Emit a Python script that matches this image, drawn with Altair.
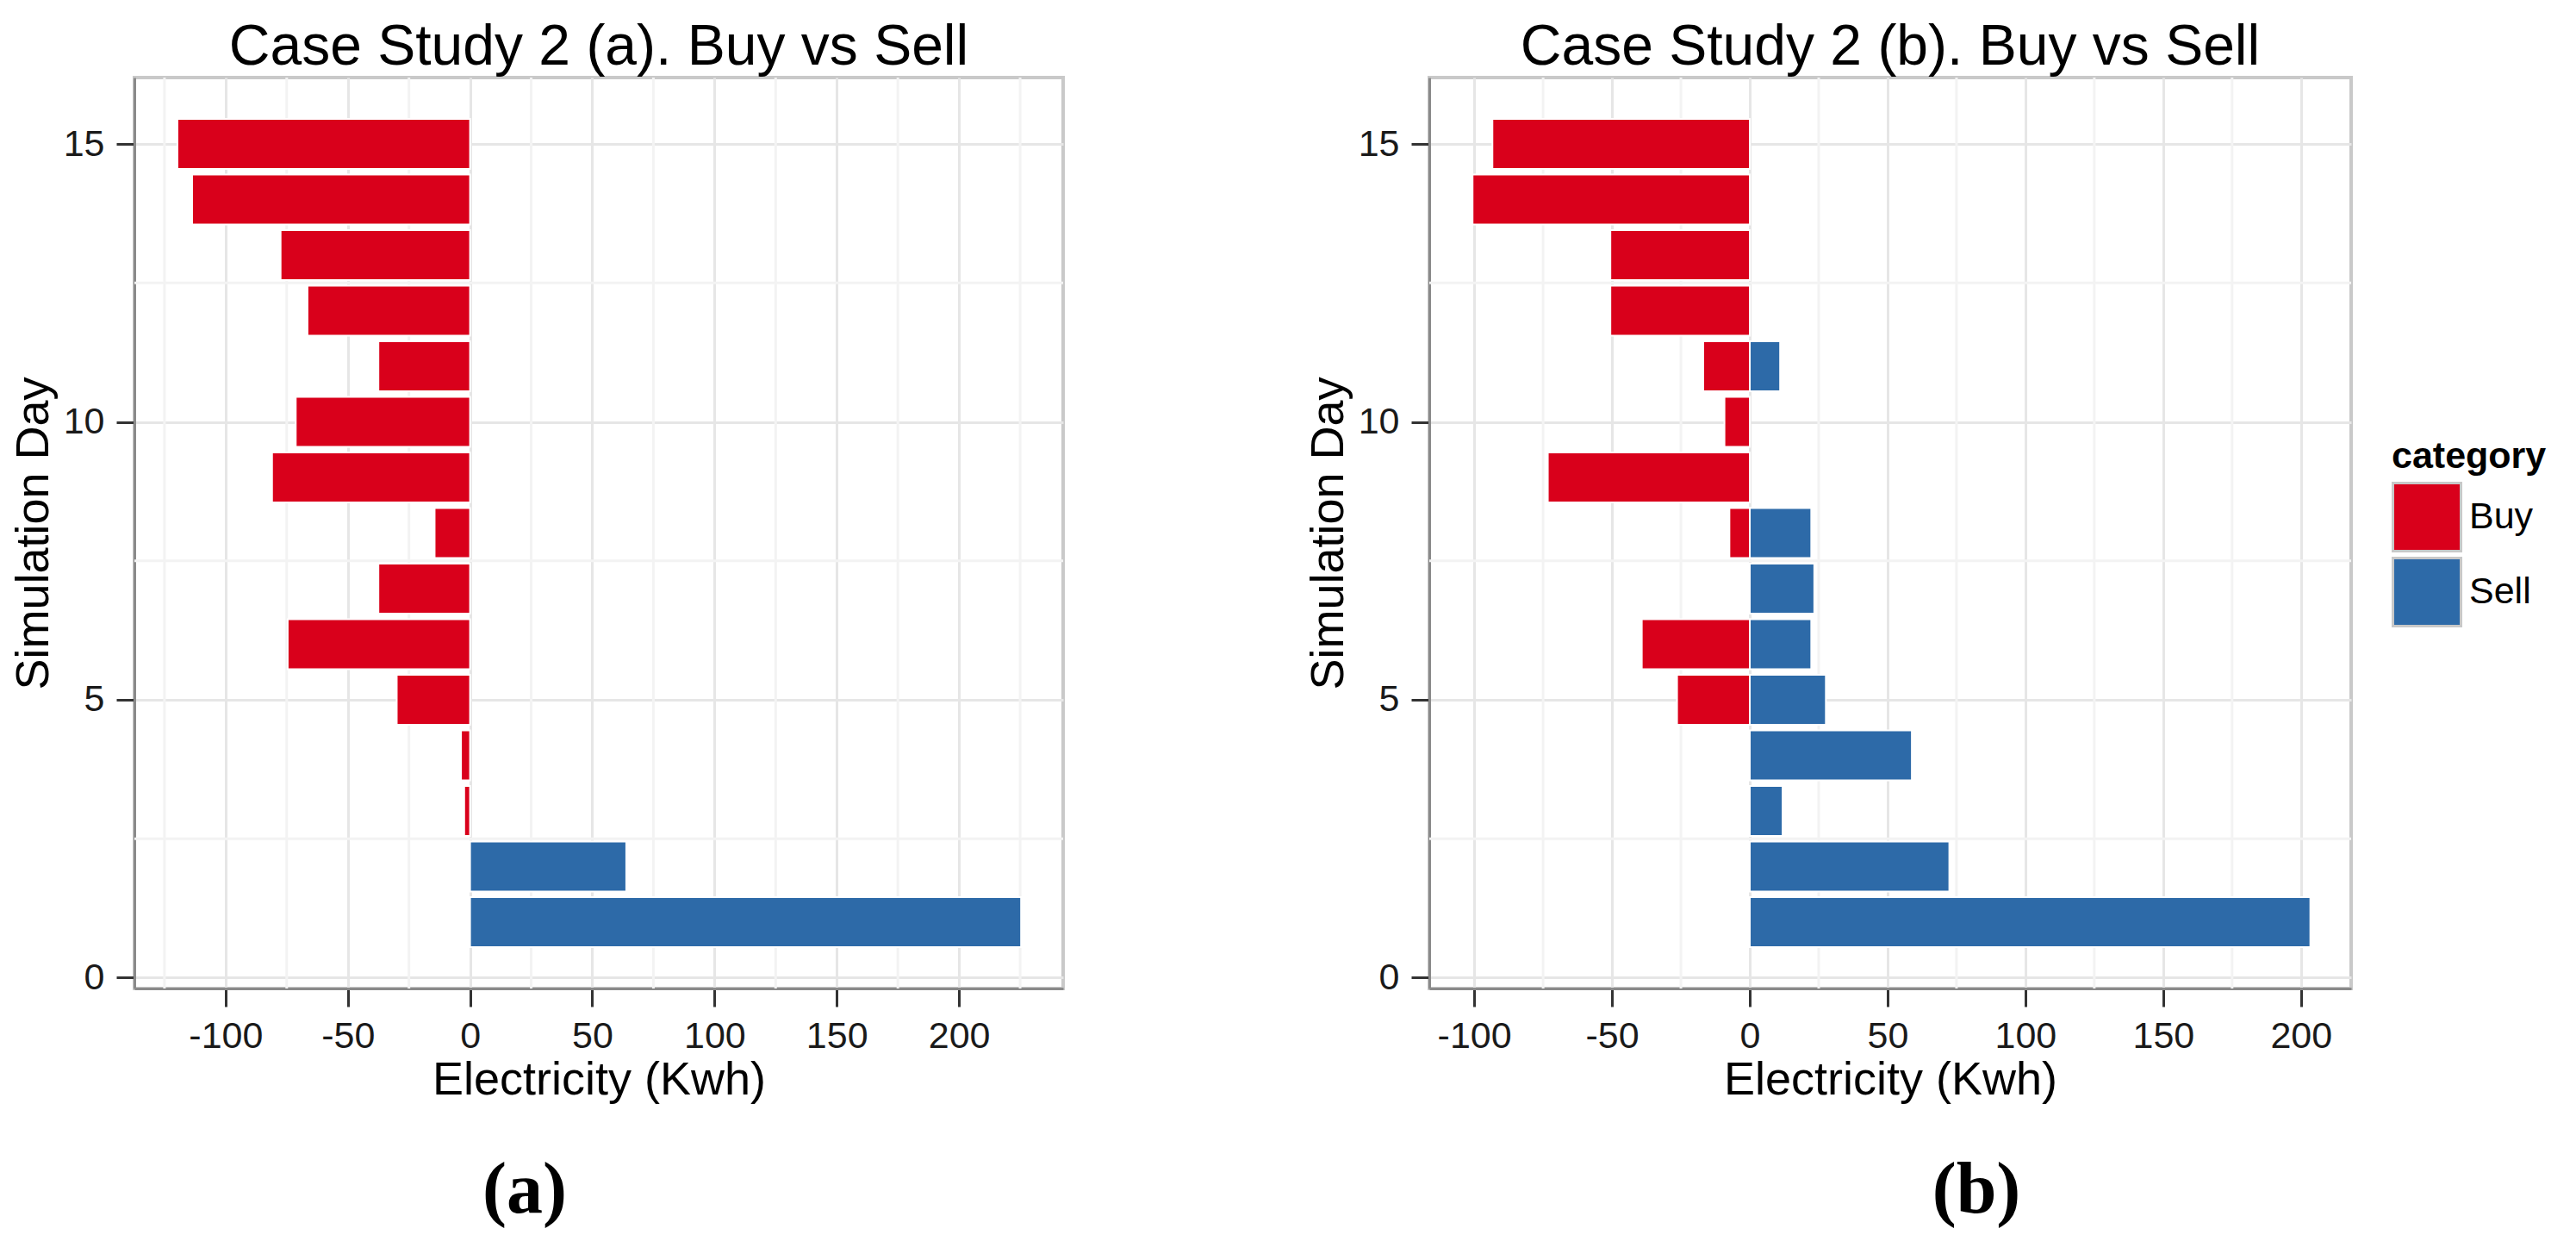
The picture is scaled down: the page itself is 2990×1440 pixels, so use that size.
import altair as alt
import pandas as pd

# ---------------- data ----------------
days = [1, 2, 3, 4, 5, 6, 7, 8, 9, 10, 11, 12, 13, 14, 15]
buy_a = [None, None, -2.4, -3.7, -30.0, -74.6, -37.5, -14.5, -81.0, -71.3, -37.5, -66.5, -77.5, -113.7, -119.7]
sell_a = [225.4, 63.9, None, None, None, None, None, None, None, None, None, None, None, None, None]
buy_b = [None, None, None, None, -26.4, -39.2, None, -7.4, -73.3, -9.2, -16.9, -50.6, -50.6, -100.6, -93.4]
sell_b = [203.4, 72.4, 11.9, 58.8, 27.6, 22.3, 23.4, 22.3, None, None, 11.0, None, None, None, None]

categories = ["Buy", "Sell"]
titles = ["Case Study 2 (a). Buy vs Sell", "Case Study 2 (b). Buy vs Sell"]
captions = ["(a)", "(b)"]
x_ticks = [-100, -50, 0, 50, 100, 150, 200]
y_ticks = [0, 5, 10, 15]
x_minor_a = [-125, -75, -25, 25, 75, 125, 175, 225]
x_minor_b = [-75, -25, 25, 75, 125, 175]
y_minor = [2.5, 7.5, 12.5]

# ---------------- styling ----------------
F = "Liberation Sans"
RED = "#D9001B"
BLUE = "#2D6AA8"
PLOT_H = 1057


def make_panel(buy, sell, title, caption, x_domain, width, x_minor, caption_x):
    rows = []
    for d, b, s in zip(days, buy, sell):
        if b is not None:
            rows.append({"day": d, "value": b, "category": "Buy"})
        if s is not None:
            rows.append({"day": d, "value": s, "category": "Sell"})
    df = pd.DataFrame(rows)

    xscale = alt.Scale(domain=x_domain, nice=False, zero=False)
    yscale = alt.Scale(domain=[-0.195, 16.195], nice=False, zero=False)
    xaxis = alt.Axis(
        values=x_ticks, labelExpr="'' + datum.value",
        grid=True, gridColor="#e6e6e6", gridWidth=3,
        tickSize=21, tickWidth=3, tickColor="#333333",
        domainColor="#8a8a8a", domainWidth=3,
        labelFont=F, labelFontSize=43, labelColor="#1a1a1a",
        labelPadding=47, labelBaseline="alphabetic", labelFlush=False,
        titleFont=F, titleFontSize=54, titleFontWeight="normal", titleColor="black",
        titleX=width / 2, titleY=122, titleBaseline="alphabetic", titleAlign="center",
    )
    yaxis = alt.Axis(
        values=y_ticks, labelExpr="'' + datum.value",
        grid=True, gridColor="#e6e6e6", gridWidth=3,
        tickSize=21, tickWidth=3, tickColor="#333333",
        domainColor="#8a8a8a", domainWidth=3,
        labelFont=F, labelFontSize=43, labelColor="#1a1a1a", labelPadding=14,
        labelFlush=False,
        titleFont=F, titleFontSize=54, titleFontWeight="normal", titleColor="black",
        titleX=-101, titleY=PLOT_H / 2, titleAngle=270, titleBaseline="alphabetic",
        titleAlign="center",
    )
    xt = "Electricity (Kwh)"
    yt = "Simulation Day"
    legend = alt.Legend(
        orient="none", legendX=2620, legendY=419, title="category",
        titleFont=F, titleFontSize=43, titleFontWeight="bold", titleColor="black",
        titlePadding=7, labelFont=F, labelFontSize=43, labelColor="black",
        labelOffset=8, symbolType="square", symbolSize=6241,
        symbolStrokeColor="#c8c8c8", symbolStrokeWidth=3, rowPadding=-15,
    )

    vx = alt.Chart(pd.DataFrame({"v": x_minor})).mark_rule(
        color="#f3f3f3", strokeWidth=3
    ).encode(x=alt.X("v:Q", scale=xscale, axis=xaxis, title=xt))
    vy = alt.Chart(pd.DataFrame({"v": y_minor})).mark_rule(
        color="#f3f3f3", strokeWidth=3
    ).encode(y=alt.Y("v:Q", scale=yscale, axis=yaxis, title=yt))

    bars = alt.Chart(df).transform_calculate(
        lo="datum.day - 0.45", hi="datum.day + 0.45"
    ).mark_bar(stroke="white", strokeWidth=2).encode(
        x=alt.X("value:Q", scale=xscale, axis=xaxis, title=xt),
        x2=alt.datum(0),
        y=alt.Y("lo:Q", scale=yscale, axis=yaxis, title=yt),
        y2="hi:Q",
        color=alt.Color("category:N",
                        scale=alt.Scale(domain=categories, range=[RED, BLUE]),
                        legend=legend),
    )

    head = alt.Chart(pd.DataFrame({"label": [title]})).mark_text(
        font=F, fontSize=66, baseline="alphabetic", align="center", color="black"
    ).encode(text="label:N", x=alt.value(width / 2), y=alt.value(-15))

    cap = alt.Chart(pd.DataFrame({"label": [caption]})).mark_text(
        font="Liberation Serif", fontWeight="bold", fontSize=84,
        baseline="alphabetic", align="center", color="black"
    ).encode(text="label:N", x=alt.value(caption_x), y=alt.value(1317))

    return alt.layer(vx, vy, bars, head, cap).properties(width=width, height=PLOT_H)


pa = make_panel(buy_a, sell_a, titles[0], captions[0], [-137.3, 242.6], 1078, x_minor_a, 453)
pb = make_panel(buy_b, sell_b, titles[1], captions[1], [-116.3, 218.2], 1070, x_minor_b, 635)

chart = alt.hconcat(pa, pb, spacing=425, bounds="flush").properties(
    padding={"left": 2, "top": 12, "right": 0, "bottom": 0},
    background="white",
).configure_view(stroke="#c9c9c9", strokeWidth=4)

chart.save("out.html", embed_options={"renderer": "svg", "actions": False})
